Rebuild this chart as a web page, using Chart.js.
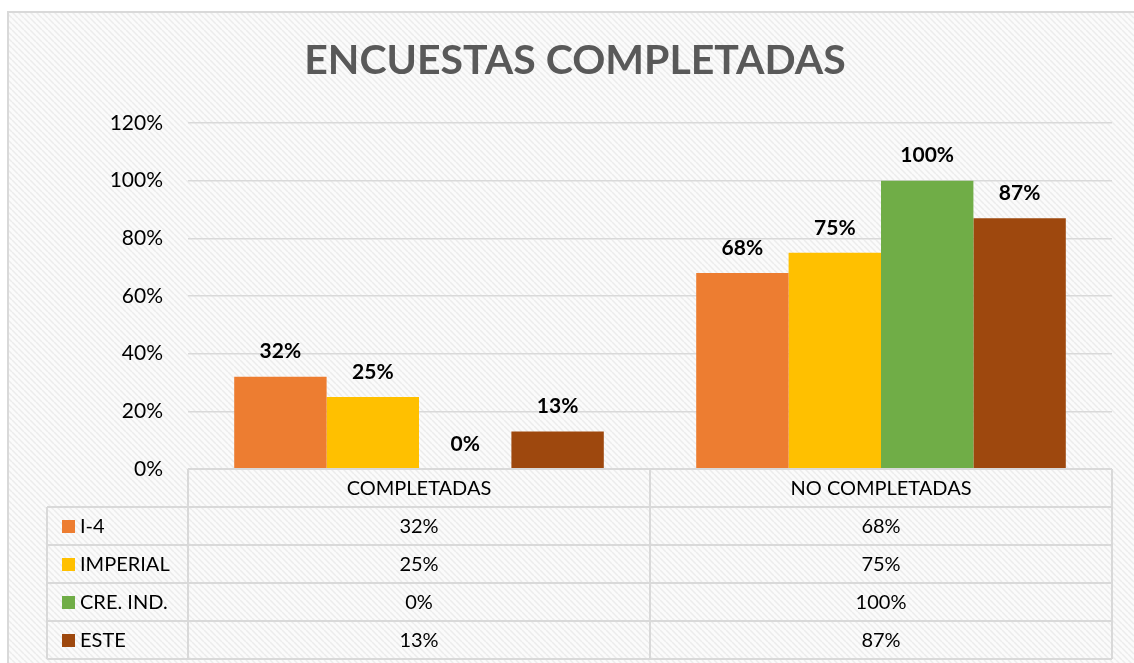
<!DOCTYPE html>
<html>
<head>
<meta charset="utf-8">
<script src="https://cdn.jsdelivr.net/npm/chart.js@4/dist/chart.umd.min.js"></script>
<style>
  html, body { margin: 0; padding: 0; background: #fff; }
  #wrap { width: 1134px; height: 663px; }
</style>
</head>
<body>
<div id="wrap"><canvas id="c"></canvas></div>
<script>
const categories = ['COMPLETADAS', 'NO COMPLETADAS']
const seriesNames = ['I-4', 'IMPERIAL', 'CRE. IND.', 'ESTE']
const i4 = [32, 68]
const imperial = [25, 75]
const creInd = [0, 100]
const este = [13, 87]
const yTicks = [0, 20, 40, 60, 80, 100, 120]
const colors = ['#ED7D31', '#FFC000', '#70AD47', '#9E480E']

const FONT = 'Lato, "Open Sans", sans-serif'

// trama diagonal del fondo
function hatch() {
    const s = 6
    const t = document.createElement('canvas')
    t.width = s; t.height = s
    const g = t.getContext('2d')
    g.fillStyle = '#fbfbfb'
    g.fillRect(0, 0, s, s)
    g.strokeStyle = '#ececec'
    g.lineWidth = 1.5
    for (const k of [-s, 0, s]) {
        g.beginPath()
        g.moveTo(k, 0)
        g.lineTo(k + s, s)
        g.stroke()
    }
    return t
}

const background = {
    id: 'background',
    beforeDraw(chart) {
        const ctx = chart.ctx
        ctx.save()
        ctx.fillStyle = '#fff'
        ctx.fillRect(0, 0, chart.width, chart.height)
        ctx.fillStyle = ctx.createPattern(hatch(), 'repeat')
        ctx.fillRect(7, 11, chart.width, chart.height)
        ctx.strokeStyle = '#d9d9d9'
        ctx.lineWidth = 2
        ctx.strokeRect(8, 12, chart.width + 10, chart.height + 10)
        ctx.restore()
    }
}

const valueLabels = {
    id: 'valueLabels',
    afterDatasetsDraw(chart) {
        const ctx = chart.ctx
        ctx.save()
        ctx.font = 'bold 21px ' + FONT
        ctx.fillStyle = '#000'
        ctx.textAlign = 'center'
        ctx.textBaseline = 'middle'
        chart.data.datasets.forEach((ds, i) => {
            chart.getDatasetMeta(i).data.forEach((bar, j) => {
                ctx.fillText(ds.data[j] + '%', bar.x, bar.y - 25)
            })
        })
        ctx.restore()
    }
}

// tabla de datos bajo el eje
const dataTable = {
    id: 'dataTable',
    afterDraw(chart) {
        const ctx = chart.ctx
        const x = chart.scales.x
        const area = chart.chartArea
        const rowH = 38
        const half = (area.right - area.left) / categories.length / 2
        const legendLeft = 47
        const top = area.bottom
        const nRows = seriesNames.length
        const bottom = top + rowH * (nRows + 1)
        ctx.save()
        ctx.strokeStyle = '#d9d9d9'
        ctx.lineWidth = 2
        // horizontales
        ctx.beginPath()
        ctx.moveTo(area.left, top)
        ctx.lineTo(area.right, top)
        for (let r = 1; r <= nRows + 1; r++) {
            ctx.moveTo(legendLeft, top + rowH * r)
            ctx.lineTo(area.right, top + rowH * r)
        }
        // verticales
        ctx.moveTo(legendLeft, top + rowH)
        ctx.lineTo(legendLeft, bottom)
        ctx.moveTo(area.left, top)
        ctx.lineTo(area.left, bottom)
        categories.forEach((c, j) => {
            const r = x.getPixelForValue(j) + half
            ctx.moveTo(r, top)
            ctx.lineTo(r, bottom)
        })
        ctx.stroke()

        ctx.font = '20px ' + FONT
        ctx.fillStyle = '#000'
        ctx.textBaseline = 'middle'
        ctx.textAlign = 'center'
        categories.forEach((c, j) => {
            ctx.fillText(c, x.getPixelForValue(j), top + rowH / 2 + 1)
        })
        chart.data.datasets.forEach((ds, i) => {
            const cy = top + rowH * (i + 1) + rowH / 2 + 1
            ctx.textAlign = 'center'
            ds.data.forEach((v, j) => {
                ctx.fillText(v + '%', x.getPixelForValue(j), cy)
            })
            ctx.fillStyle = ds.backgroundColor
            ctx.fillRect(62, cy - 7, 13, 13)
            ctx.fillStyle = '#000'
            ctx.textAlign = 'left'
            ctx.fillText(ds.label, 80, cy)
        })
        ctx.restore()
    }
}

const values = [i4, imperial, creInd, este]

new Chart(document.getElementById('c'), {
    type: 'bar',
    data: {
        labels: categories,
        datasets: seriesNames.map((name, i) => ({
            label: name,
            data: values[i],
            backgroundColor: colors[i],
            borderWidth: 0,
            barPercentage: 1,
            categoryPercentage: 0.8
        }))
    },
    options: {
        responsive: true,
        maintainAspectRatio: false,
        animation: false,
        layout: { padding: { left: 38, right: 22, top: 0, bottom: 194 } },
        plugins: {
            legend: { display: false },
            tooltip: { enabled: false },
            title: {
                display: true,
                text: 'ENCUESTAS COMPLETADAS',
                color: '#595959',
                font: { family: FONT, size: 41, weight: 'bold', lineHeight: 1.2 },
                padding: { top: 36.4, bottom: 37.4 }
            }
        },
        scales: {
            x: { display: false },
            y: {
                min: 0,
                max: 120,
                afterBuildTicks: (s) => { s.ticks = yTicks.map(v => ({ value: v })) },
                afterFit: (s) => { s.width = 150 },
                border: { display: false },
                grid: { color: '#d9d9d9', lineWidth: 1.5, drawTicks: false },
                ticks: {
                    padding: 25,
                    color: '#000',
                    font: { family: FONT, size: 21 },
                    callback: v => v + '%'
                }
            }
        }
    },
    plugins: [background, valueLabels, dataTable]
})
</script>
</body>
</html>
